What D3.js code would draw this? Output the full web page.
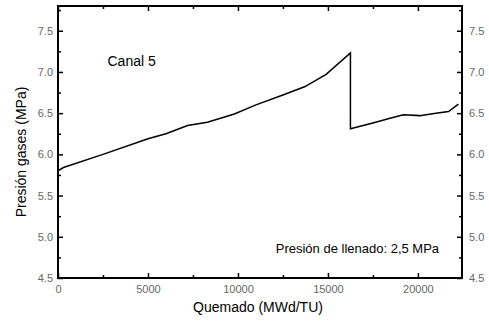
<!DOCTYPE html>
<html>
<head>
<meta charset="utf-8">
<script src="https://cdn.jsdelivr.net/npm/d3@7"></script>
<style>
  body { margin: 0; background: #fff; }
  svg { display: block; font-family: "Liberation Sans", Arial, sans-serif; }
  .tk text { fill: #666; font-size: 11px; }
  .tk line, .tk path { stroke: #000; }
</style>
</head>
<body>
<script>
// burnup (MWd/TU) and gas pressure (MPa)
var quemado = [0, 300, 2500, 5000, 6000, 7200, 8300, 9800, 11000, 12500, 13700, 14900, 16250,
               16250, 17500, 18500, 19200, 20100, 21000, 21700, 22250];
var presion = [5.80, 5.84, 6.00, 6.19, 6.25, 6.35, 6.39, 6.49, 6.60, 6.72, 6.82, 6.97, 7.23,
               6.31, 6.38, 6.44, 6.48, 6.47, 6.50, 6.52, 6.61];

var xMajor = [0, 5000, 10000, 15000, 20000];
var xMinor = [2500, 7500, 12500, 17500];
var yMajor = [4.5, 5.0, 5.5, 6.0, 6.5, 7.0, 7.5];
var yMinor = [4.75, 5.25, 5.75, 6.25, 6.75, 7.25, 7.75];

var width = 489, height = 322;
var plotL = 58, plotR = 462, plotT = 6, plotB = 278;

var svg = d3.select('body').append('svg')
    .attr('width', width)
    .attr('height', height);

var x = d3.scaleLinear().domain([0, 22450]).range([plotL, plotR]);
var y = d3.scaleLinear().domain([4.5, 7.8]).range([plotB, plotT]);

var fmtY = d3.format('.1f');

function addAxis(gen, tx, ty) {
    var g = svg.append('g')
        .attr('class', 'tk')
        .attr('transform', 'translate(' + tx + ',' + ty + ')')
        .call(gen);
    g.select('.domain').remove();
    g.selectAll('line').attr('stroke-width', 1.5);
    return g;
}

// bottom
addAxis(d3.axisBottom(x).tickValues(xMajor).tickSize(-5).tickPadding(7).tickFormat(d3.format('d')), 0, plotB);
addAxis(d3.axisBottom(x).tickValues(xMinor).tickSize(-3).tickFormat(''), 0, plotB);
// top
addAxis(d3.axisTop(x).tickValues(xMajor).tickSize(-5).tickFormat(''), 0, plotT);
addAxis(d3.axisTop(x).tickValues(xMinor).tickSize(-3).tickFormat(''), 0, plotT);
// left
addAxis(d3.axisLeft(y).tickValues(yMajor).tickSize(-5).tickPadding(5).tickFormat(fmtY), plotL, 0);
addAxis(d3.axisLeft(y).tickValues(yMinor).tickSize(-3).tickFormat(''), plotL, 0);
// right
addAxis(d3.axisRight(y).tickValues(yMajor).tickSize(-5).tickPadding(7).tickFormat(fmtY), plotR, 0);
addAxis(d3.axisRight(y).tickValues(yMinor).tickSize(-3).tickFormat(''), plotR, 0);

// frame
svg.append('rect')
    .attr('x', plotL)
    .attr('y', plotT)
    .attr('width', plotR - plotL)
    .attr('height', plotB - plotT)
    .attr('fill', 'none')
    .attr('stroke', '#000')
    .attr('stroke-width', 2);

var line = d3.line()
    .x(function(d, i) { return x(quemado[i]); })
    .y(function(d) { return y(d); });

svg.append('path')
    .datum(presion)
    .attr('d', line)
    .attr('fill', 'none')
    .attr('stroke', '#000')
    .attr('stroke-width', 1.5);

svg.append('text')
    .attr('x', x(2750))
    .attr('y', y(7.07))
    .attr('font-size', 14)
    .text('Canal 5');

svg.append('text')
    .attr('x', x(12100))
    .attr('y', y(4.8))
    .attr('font-size', 13)
    .text('Presión de llenado: 2,5 MPa');

svg.append('text')
    .attr('x', (plotL + plotR) / 2 - 2)
    .attr('y', 312)
    .attr('text-anchor', 'middle')
    .attr('font-size', 14)
    .text('Quemado (MWd/TU)');

svg.append('text')
    .attr('transform', 'translate(26,152) rotate(-90)')
    .attr('text-anchor', 'middle')
    .attr('font-size', 14)
    .text('Presión gases (MPa)');
</script>
</body>
</html>
